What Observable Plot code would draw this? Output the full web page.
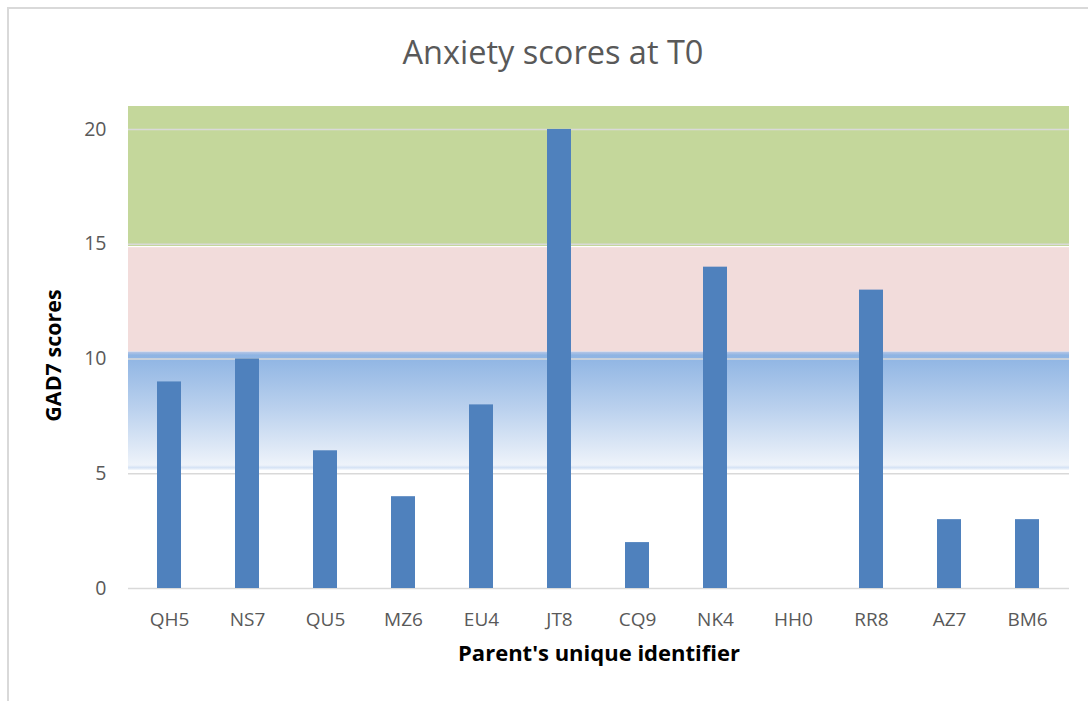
<!DOCTYPE html>
<html><head><meta charset="utf-8">
<script src="https://cdn.jsdelivr.net/npm/d3@7"></script>
<script src="https://cdn.jsdelivr.net/npm/@observablehq/plot@0.6"></script>
<style>
body{margin:0;background:#fff;font-family:"Open Sans",sans-serif}
#wrap{position:relative;width:1088px;height:701px;overflow:hidden}
#frame{position:absolute;left:7px;top:7px;width:1200px;height:800px;border-left:2px solid #d9d9d9;border-top:2px solid #d9d9d9}
#title{position:absolute;left:0;width:1106px;top:30px;text-align:center;font-size:32.5px;line-height:44px;color:#595959}
#chart{position:absolute;left:0;top:0}
</style></head>
<body>
<div id="wrap"><div id="frame"></div><div id="chart"></div><div id="title">Anxiety scores at T0</div></div>
<script>
const parents = ["QH5","NS7","QU5","MZ6","EU4","JT8","CQ9","NK4","HH0","RR8","AZ7","BM6"];
const scores  = [9,10,6,4,8,20,2,14,0,13,3,3];
const yTicks = [0,5,10,15,20];
const bandNames = ["severe","moderate","mild"];
const bandLow  = [14.9,10.3,5.15];
const bandHigh = [21,14.85,10.3];
const bandFills = ["#c4d79b","#f2dcdb","url(#blueGrad)"];

const data = parents.map((p,i)=>({parent:p, score:scores[i]}));
const bands = bandNames.map((n,i)=>({name:n, lo:bandLow[i], hi:bandHigh[i], fill:bandFills[i]}));

function gradientDefs(){
  const ns="http://www.w3.org/2000/svg";
  const defs=document.createElementNS(ns,"defs");
  const g=document.createElementNS(ns,"linearGradient");
  g.setAttribute("id","blueGrad");g.setAttribute("x1","0");g.setAttribute("y1","0");g.setAttribute("x2","0");g.setAttribute("y2","1");
  [["0%","#b9c7e6"],["3%","#8eb4e3"],["50%","#bcd2ee"],["96%","#eef3fa"],["98%","#d6e3f5"],["100%","#eef3fa"]].forEach(([o,c])=>{
    const s=document.createElementNS(ns,"stop");s.setAttribute("offset",o);s.setAttribute("stop-color",c);g.appendChild(s);
  });
  defs.appendChild(g);
  return defs;
}

const chart = Plot.plot({
  width:1088, height:701,
  marginLeft:128, marginRight:19, marginTop:106, marginBottom:113,
  style:{fontFamily:"'Open Sans',sans-serif", background:"transparent"},
  x:{domain:parents, paddingInner:0.69, paddingOuter:0.345, label:null},
  y:{domain:[0,21], label:null},
  marks:[
    gradientDefs,
    Plot.rect(bands,{y1:"lo", y2:"hi", fill:d=>d.fill}),
    Plot.ruleY(yTicks,{stroke:"#d9d9d9", strokeWidth:1.6}),
    Plot.barY(data,{x:"parent", y:"score", fill:"#4f81bd"}),
    Plot.axisY(yTicks,{tickSize:0, tickPadding:22, fontSize:19.5, color:"#595959", label:null}),
    Plot.axisX({tickSize:0, tickPadding:24, fontSize:19, color:"#595959", label:null}),
    Plot.text(["GAD7 scores"],{frameAnchor:"left", textAnchor:"middle", rotate:-90, dx:-74, dy:8, fontSize:21.5, fontWeight:"bold", fill:"#000"}),
    Plot.text(["Parent's unique identifier"],{frameAnchor:"bottom", dy:72, fontSize:22, fontWeight:"bold", fill:"#000"})
  ]
});
document.getElementById("chart").appendChild(chart);
</script>
</body></html>
